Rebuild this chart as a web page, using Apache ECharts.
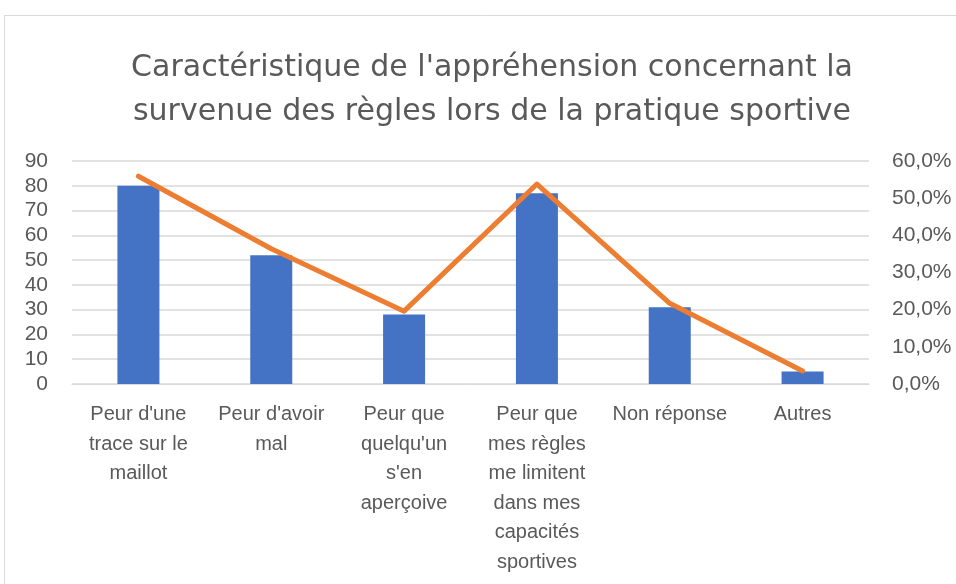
<!DOCTYPE html>
<html>
<head>
<meta charset="utf-8">
<style>
  html, body { margin: 0; padding: 0; background: #fff; }
  #chart { width: 956px; height: 584px; }
</style>
<script src="https://cdn.jsdelivr.net/npm/echarts@6/dist/echarts.min.js"></script>
</head>
<body>
<div id="chart"></div>
<script>
// categories (line breaks as in the reference)
const categories = [
  "Peur d'une\ntrace sur le\nmaillot",
  "Peur d'avoir\nmal",
  "Peur que\nquelqu'un\ns'en\naperçoive",
  "Peur que\nmes règles\nme limitent\ndans mes\ncapacités\nsportives",
  'Non réponse',
  'Autres'
]
// effectifs (left axis)
const counts = [80, 52, 28, 77, 31, 5]
// pourcentages (right axis)
const shares = [0.559, 0.364, 0.196, 0.538, 0.217, 0.035]

const textColor = '#595959'
const font = 'Liberation Sans'

const chart = echarts.init(document.getElementById('chart'))
chart.setOption({
  animation: false,
  textStyle: { fontFamily: font },
  title: {
    text: "Caractéristique de l'appréhension concernant la\nsurvenue des règles lors de la pratique sportive",
    left: 487,
    top: 41,
    textAlign: 'center',
    textStyle: {
      color: textColor,
      fontFamily: 'DejaVu Sans',
      fontWeight: 'normal',
      fontSize: 30,
      lineHeight: 44
    }
  },
  graphic: [
    {
      type: 'rect',
      shape: { x: 4.5, y: 15.5, width: 1000, height: 1000 },
      style: { fill: 'none', stroke: '#d9d9d9', lineWidth: 1 },
      z: -1
    }
  ],
  grid: { left: 72, right: 87, top: 161, bottom: 200 },
  xAxis: {
    type: 'category',
    data: categories,
    axisLine: { lineStyle: { color: '#d9d9d9' } },
    axisTick: { show: false },
    axisLabel: {
      color: textColor,
      fontSize: 20,
      lineHeight: 29.5,
      margin: 16,
      interval: 0,
      verticalAlign: 'top'
    }
  },
  yAxis: [
    {
      type: 'value',
      min: 0,
      max: 90,
      interval: 10,
      axisLine: { show: false },
      axisTick: { show: false },
      splitLine: { lineStyle: { color: '#d9d9d9', width: 1.5 } },
      axisLabel: { color: textColor, fontSize: 21, margin: 24 }
    },
    {
      type: 'value',
      min: 0,
      max: 0.6,
      interval: 0.1,
      axisLine: { show: false },
      axisTick: { show: false },
      splitLine: { show: false },
      axisLabel: {
        color: textColor,
        fontSize: 21,
        margin: 23,
        formatter: v => (v * 100).toFixed(1).replace('.', ',') + '%'
      }
    }
  ],
  series: [
    {
      type: 'bar',
      data: counts,
      barWidth: 42,
      itemStyle: { color: '#4472C4' }
    },
    {
      type: 'line',
      yAxisIndex: 1,
      data: shares,
      symbol: 'none',
      lineStyle: { color: '#ED7D31', width: 5, cap: 'round', join: 'round' }
    }
  ]
})
</script>
</body>
</html>
